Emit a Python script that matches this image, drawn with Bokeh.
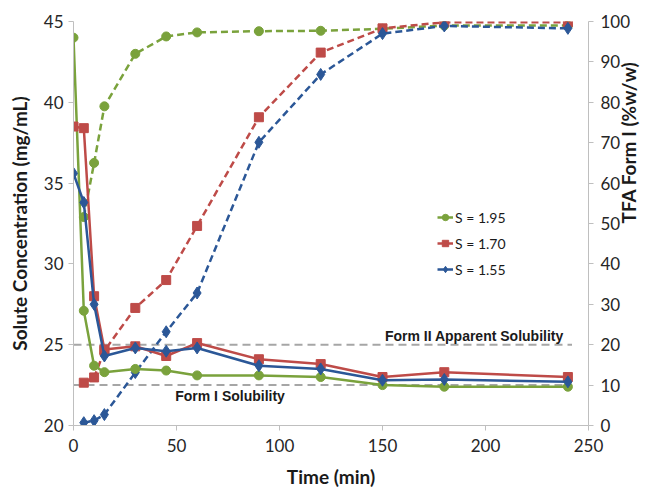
import math
from bokeh.plotting import figure
from bokeh.models import Range1d, LinearAxis, Legend, LegendItem, Label, FixedTicker
from bokeh.embed import file_html
from bokeh.resources import INLINE

# ---- data ----
time_conc = [0, 5, 10, 15, 30, 45, 60, 90, 120, 150, 180, 240]
conc_s195 = [44.0, 27.1, 23.7, 23.3, 23.5, 23.4, 23.1, 23.1, 23.0, 22.5, 22.4, 22.4]
conc_s170 = [38.5, 38.4, 28.0, 24.7, 24.9, 24.3, 25.1, 24.1, 23.8, 23.0, 23.3, 23.0]
conc_s155 = [35.6, 33.8, 27.5, 24.3, 24.8, 24.6, 24.8, 23.7, 23.5, 22.8, 22.85, 22.7]

time_tfa = [5, 10, 15, 30, 45, 60, 90, 120, 150, 180, 240]
tfa_s195 = [51.6, 65.0, 79.0, 92.0, 96.3, 97.3, 97.6, 97.7, 98.2, 99.0, 99.0]
tfa_s170 = [10.6, 11.9, 18.5, 29.1, 36.0, 49.4, 76.3, 92.3, 98.3, 99.8, 99.8]
tfa_s155 = [0.7, 1.2, 2.7, 13.1, 23.2, 32.8, 70.1, 86.9, 97.0, 98.9, 98.3]

series_labels = ["S = 1.95", "S = 1.70", "S = 1.55"]

form2_solubility = 25.0
form1_solubility = 22.5
sol_line_time = [0, 242]

x_ticks = [0, 50, 100, 150, 200, 250]
conc_ticks = [20, 25, 30, 35, 40, 45]
tfa_ticks = [0, 10, 20, 30, 40, 50, 60, 70, 80, 90, 100]

# ---- styles ----
GREEN = "#7aa23c"
RED = "#be4b48"
BLUE = "#2b5797"
GRAY_AX = "#bfbfbf"
TICK_TXT = "#262626"
FONT = "Lato"

p = figure(width=654, height=490, output_backend="svg", toolbar_location=None,
           x_range=Range1d(0, 250), y_range=Range1d(20, 45))
p.min_border_left = 73
p.min_border_right = 61
p.min_border_top = 21
p.min_border_bottom = 64
p.outline_line_color = None
p.xgrid.grid_line_color = None
p.ygrid.grid_line_color = None
p.background_fill_color = "white"
p.border_fill_color = "white"

p.extra_y_ranges = {"tfa": Range1d(0, 100)}
raxis = LinearAxis(y_range_name="tfa")
p.add_layout(raxis, "right")

for ax in (p.xaxis[0], p.yaxis[0], raxis):
    ax.axis_line_color = GRAY_AX
    ax.major_tick_line_color = GRAY_AX
    ax.major_tick_out = 5
    ax.major_tick_in = 0
    ax.minor_tick_line_color = None
    ax.major_label_text_font = FONT
    ax.major_label_text_font_size = "17px"
    ax.major_label_text_color = TICK_TXT
    ax.axis_label_text_font = FONT
    ax.axis_label_text_font_style = "bold"
    ax.axis_label_text_font_size = "19px"
    ax.axis_label_text_color = "#1a1a1a"

p.xaxis[0].ticker = FixedTicker(ticks=x_ticks)
p.yaxis[0].ticker = FixedTicker(ticks=conc_ticks)
raxis.ticker = FixedTicker(ticks=tfa_ticks)

p.xaxis[0].axis_label = "Time (min)"
p.yaxis[0].axis_label = "Solute Concentration (mg/mL)"
raxis.axis_label = "TFA Form I (%w/w)"
raxis.axis_label_orientation = math.pi / 2
raxis.axis_label_text_line_height = 1.0
p.xaxis[0].major_label_standoff = 8
p.xaxis[0].axis_label_standoff = 10
p.yaxis[0].major_label_standoff = 5
p.yaxis[0].axis_label_standoff = 10
raxis.major_label_standoff = 7
raxis.axis_label_standoff = -5

# solubility reference lines
p.line(sol_line_time, [form2_solubility] * 2, line_color="#a6a6a6", line_width=2, line_dash="8 5")
p.line(sol_line_time, [form1_solubility] * 2, line_color="#a6a6a6", line_width=2, line_dash="8 5")

# dashed TFA series
for ys, col, mk, sz in ((tfa_s195, GREEN, "circle", 9), (tfa_s170, RED, "square", 9), (tfa_s155, BLUE, "diamond", 12)):
    p.line(time_tfa, ys, y_range_name="tfa", line_color=col, line_width=2.5, line_dash="7 4")
    p.scatter(time_tfa, ys, y_range_name="tfa", marker=mk, size=sz, fill_color=col, line_color=col)

# solid concentration series
items = []
for ys, col, mk, sz, lab in ((conc_s195, GREEN, "circle", 9, series_labels[0]),
                              (conc_s170, RED, "square", 9, series_labels[1]),
                              (conc_s155, BLUE, "diamond", 12, series_labels[2])):
    l = p.line(time_conc, ys, line_color=col, line_width=2.5)
    s = p.scatter(time_conc, ys, marker=mk, size=sz, fill_color=col, line_color=col)
    items.append(LegendItem(label=lab, renderers=[l, s]))

legend = Legend(items=items, location=(364, 146))
legend.background_fill_alpha = 0
legend.border_line_color = None
legend.padding = 0
legend.margin = 0
legend.spacing = 6
legend.label_height = 20
legend.glyph_height = 20
legend.glyph_width = 16
legend.label_standoff = 2
legend.label_text_font = FONT
legend.label_text_font_size = "14px"
legend.label_text_color = "#1a1a1a"
p.add_layout(legend, "center")

p.add_layout(Label(x=238, y=25.55, text="Form II Apparent Solubility", text_align="right",
                   text_baseline="middle", text_font="Liberation Sans", text_font_style="bold",
                   text_font_size="14px", text_color="#1a1a1a"))
p.add_layout(Label(x=76, y=21.85, text="Form I Solubility", text_align="center",
                   text_baseline="middle", text_font="Liberation Sans", text_font_style="bold",
                   text_font_size="14px", text_color="#1a1a1a"))

open("out.html", "w").write(file_html(p, INLINE))
